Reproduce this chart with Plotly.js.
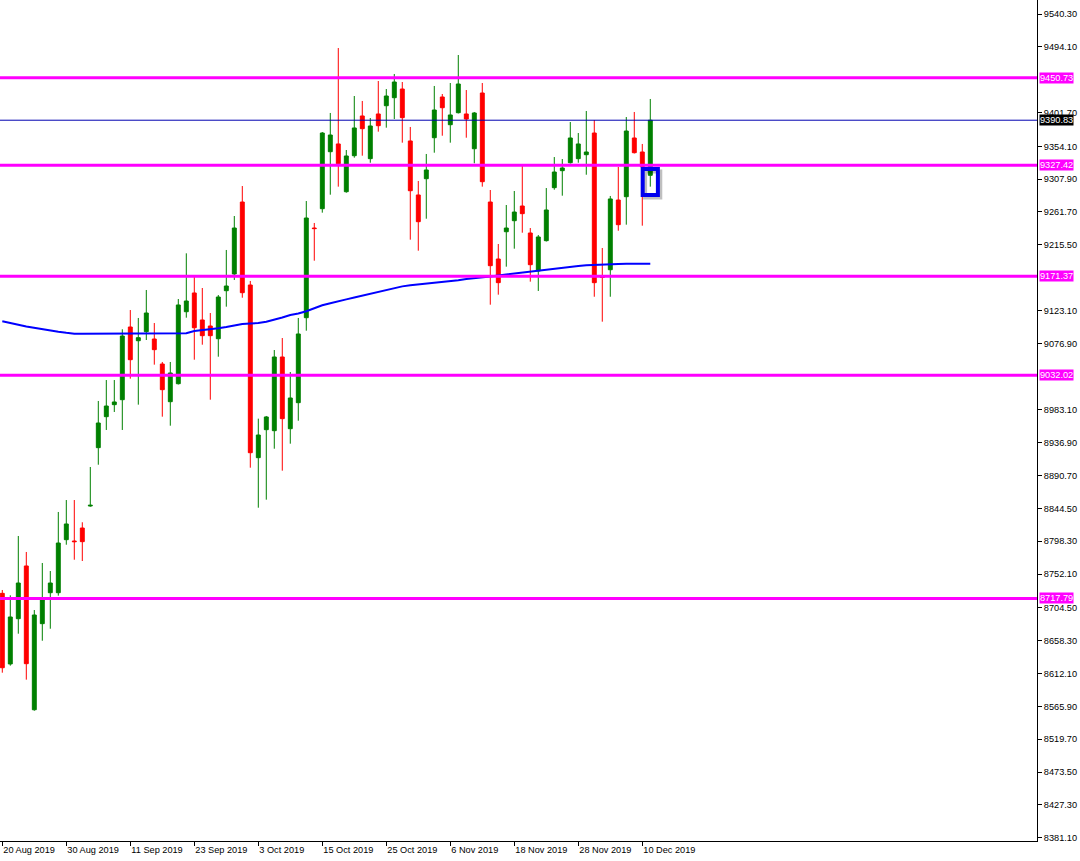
<!DOCTYPE html>
<html>
<head>
<meta charset="utf-8">
<script src="https://cdn.plot.ly/plotly-3.0.1.min.js"></script>
<style>html,body{margin:0;padding:0;background:#fff;}#chart{width:1080px;height:861px;}</style>
</head>
<body>
<div id="chart"></div>
<script>
// Date labels shown on the time axis (one every 8 bars)
const dateLabels = ["20 Aug 2019","30 Aug 2019","11 Sep 2019","23 Sep 2019","3 Oct 2019","15 Oct 2019","25 Oct 2019","6 Nov 2019","18 Nov 2019","28 Nov 2019","10 Dec 2019"];
const barsPerLabel = 8;

const openP = [8725.0,8625.6,8689.3,8763.5,8561.2,8682.3,8725.9,8725.9,8800.5,8798.6,
8816.9,8847.9,8930.0,8973.6,8990.5,8997.5,9099.8,9080.5,9093.2,9082.9,
9047.7,8994.7,9020.0,9121.3,9147.7,9109.7,9101.2,9083.3,9150.9,9174.4,
9275.7,9158.9,8915.9,8955.3,8953.9,9057.6,8956.7,8993.3,9112.9,9239.1,
9266.3,9346.5,9357.4,9290.2,9340.9,9396.8,9336.7,9399.6,9411.2,9422.5,
9434.7,9361.6,9285.6,9308.5,9366.2,9423.5,9384.5,9401.4,9399.6,9350.7,
9429.1,9275.7,9195.5,9233.9,9249.4,9270.1,9232.1,9178.6,9221.3,9295.9,
9319.8,9331.0,9336.7,9342.3,9372.8,9170.9,9180.4,9278.5,9283.2,9365.8,
9346.1,9313.3];
const highP = [8729.7,8722.2,8805.7,8783.2,8701.5,8767.7,8756.4,8839.5,8856.3,8856.3,
8825.0,8902.8,8995.7,9025.2,9025.2,9096.6,9123.7,9112.5,9151.9,9105.4,
9050.6,9050.6,9139.2,9203.5,9171.6,9154.7,9119.5,9144.8,9208.2,9256.0,
9298.2,9164.6,8970.8,8974.6,9067.4,9084.3,9036.5,9112.5,9277.1,9246.2,
9374.2,9401.0,9492.4,9348.9,9424.9,9417.9,9393.9,9446.0,9434.7,9455.9,
9444.6,9381.3,9305.3,9343.3,9439.0,9427.7,9443.2,9482.6,9433.3,9402.4,
9443.2,9292.6,9216.6,9271.5,9291.2,9326.8,9239.1,9229.3,9295.4,9339.0,
9336.2,9388.3,9372.8,9403.8,9391.1,9211.0,9284.2,9325.0,9395.3,9402.4,
9357.4,9420.7];
const lowP = [8613.3,8623.2,8668.2,8603.5,8559.8,8658.3,8675.2,8721.7,8793.4,8772.3,
8770.5,8846.9,8906.0,8954.9,8980.2,8954.9,9027.1,8990.5,9081.5,9046.8,
8973.6,8960.9,9018.9,9112.9,9053.8,9074.9,8997.5,9058.0,9128.4,9166.0,
9141.0,8901.8,8845.5,8856.8,8928.5,8897.6,8935.6,8967.9,9094.6,9193.1,
9260.7,9286.0,9297.3,9288.8,9338.1,9340.9,9331.0,9374.7,9380.3,9392.5,
9359.2,9222.7,9207.2,9252.2,9345.1,9369.0,9359.2,9400.3,9366.2,9330.2,
9297.3,9131.2,9145.3,9184.7,9210.0,9232.5,9163.6,9150.5,9220.1,9293.0,
9284.6,9329.9,9331.0,9314.1,9142.4,9107.3,9142.4,9235.3,9243.8,9344.0,
9242.4,9297.3];
const closeP = [8620.3,8691.7,8739.5,8626.0,8694.5,8715.6,8739.5,8795.8,8822.6,8797.7,
8797.7,8848.9,8964.7,8988.6,8994.3,9087.1,9053.8,9084.8,9119.5,9067.9,
9011.6,9035.1,9130.8,9136.4,9098.8,9087.6,9087.6,9142.0,9157.5,9239.1,
9148.1,8922.9,8947.8,8973.2,9057.6,8970.8,8999.9,9090.0,9253.2,9238.3,
9372.8,9370.0,9329.6,9340.5,9379.9,9378.9,9382.7,9383.1,9424.9,9444.6,
9394.4,9291.6,9248.0,9320.8,9405.2,9408.4,9398.2,9441.8,9392.5,9401.0,
9304.3,9186.1,9162.2,9239.1,9261.6,9259.3,9187.5,9226.5,9264.5,9317.9,
9323.6,9365.8,9357.4,9346.1,9162.2,9169.5,9280.0,9243.8,9375.6,9345.1,
9325.4,9390.8];
const movingAvg = [9107.8,9105.0,9103.1,9100.5,9098.4,9096.4,9094.6,9093.1,9091.6,9090.4,
9090.4,9090.4,9090.4,9090.4,9090.7,9090.4,9090.4,9090.2,9090.2,9090.1,
9090.1,9090.0,9090.0,9090.9,9094.2,9095.2,9096.6,9098.1,9099.8,9101.8,
9104.0,9104.7,9105.3,9107.1,9109.7,9113.2,9116.7,9118.8,9122.0,9126.5,
9130.5,9133.3,9136.3,9138.7,9141.2,9143.9,9146.8,9149.9,9152.6,9155.0,
9157.0,9158.5,9159.6,9160.8,9162.0,9163.4,9164.6,9165.7,9167.4,9168.9,
9169.6,9170.9,9172.3,9173.7,9175.0,9176.1,9177.2,9178.6,9179.9,9181.6,
9183.1,9184.4,9185.8,9186.6,9187.3,9187.8,9188.2,9188.5,9188.9,9188.9,
9188.9,9188.9];

// Horizontal support / resistance levels and the current price line
const levels = [9450.73, 9327.42, 9171.37, 9032.02, 8717.79];
const currentPrice = 9390.83;
// Highlighted zone around the last bar (price bounds)
const highlightZone = [9285.6, 9322.2];

// Price axis tick labels (those hidden behind level tags are omitted)
const priceTicks = [9540.30,9494.10,9401.70,9354.10,9307.90,9261.70,9215.50,9123.10,
9076.90,8983.10,8936.90,8890.70,8844.50,8798.30,8752.10,8704.50,8658.30,8612.10,8565.90,
8519.70,8473.50,8427.30,8381.10];

const idx = openP.map((_, i) => i);
const lastIdx = idx[idx.length - 1];
const FONT = 'Liberation Sans, Arial, sans-serif';
const FS = 9.2;

const traces = [
  {
    type: 'candlestick', x: idx, open: openP, high: highP, low: lowP, close: closeP,
    increasing: {line: {color: '#008000', width: 1}, fillcolor: '#008000'},
    decreasing: {line: {color: '#FF0000', width: 1}, fillcolor: '#FF0000'},
    whiskerwidth: 0, hoverinfo: 'skip', showlegend: false
  },
  {
    type: 'scatter', mode: 'lines', x: idx, y: movingAvg,
    line: {color: '#0000FF', width: 2}, hoverinfo: 'skip', showlegend: false
  }
];

const shapes = [];
const annotations = [];
levels.forEach(v => {
  shapes.push({type: 'line', xref: 'paper', x0: 0, x1: 1, yref: 'y', y0: v, y1: v,
    line: {color: '#FF00FF', width: 3}, layer: 'above'});
  annotations.push({xref: 'paper', x: 1, xanchor: 'left', xshift: 2, yref: 'y', y: v, yanchor: 'middle',
    text: v.toFixed(2), showarrow: false, bgcolor: '#FF00FF', borderpad: 0,
    font: {family: FONT, size: FS, color: '#FFFFFF'}});
});
shapes.push({type: 'line', xref: 'paper', x0: 0, x1: 1, yref: 'y', y0: currentPrice, y1: currentPrice,
  line: {color: '#0000B0', width: 1}, layer: 'above'});
annotations.push({xref: 'paper', x: 1, xanchor: 'left', xshift: 2, yref: 'y', y: currentPrice, yanchor: 'middle',
  text: currentPrice.toFixed(2), showarrow: false, bgcolor: '#000000', borderpad: 0,
  font: {family: FONT, size: FS, color: '#FFFFFF'}});

// shadow + highlight box on last bar
shapes.push({type: 'rect', xref: 'x', yref: 'y', x0: lastIdx - 0.95 + 0.3, x1: lastIdx + 0.95 + 0.3,
  y0: highlightZone[0] - 3.5, y1: highlightZone[1] - 3.5,
  line: {color: 'rgba(0,0,0,0.25)', width: 4}, layer: 'above'});
shapes.push({type: 'rect', xref: 'x', yref: 'y', x0: lastIdx - 0.95, x1: lastIdx + 0.95,
  y0: highlightZone[0], y1: highlightZone[1],
  line: {color: '#0000EE', width: 4}, layer: 'above'});

const tickIdx = dateLabels.map((_, k) => k * barsPerLabel);

const layout = {
  width: 1080, height: 861,
  margin: {l: 0, r: 43, t: 0, b: 20, pad: 0},
  paper_bgcolor: '#FFFFFF', plot_bgcolor: '#FFFFFF',
  showlegend: false,
  xaxis: {
    range: [-0.2875, 129.34], showgrid: false, zeroline: false,
    showline: true, linecolor: '#000000', linewidth: 1,
    ticks: 'outside', ticklen: 4, tickcolor: '#000000', tickwidth: 1,
    tickvals: tickIdx, ticktext: dateLabels,
    ticklabelposition: 'outside right',
    tickfont: {family: FONT, size: FS, color: '#000000'},
    rangeslider: {visible: false}, fixedrange: true
  },
  yaxis: {
    side: 'right', range: [8376.45, 9560.0], showgrid: false, zeroline: false,
    showline: true, linecolor: '#000000', linewidth: 1,
    ticks: 'outside', ticklen: 4, tickcolor: '#000000', tickwidth: 1,
    tickvals: priceTicks, tickformat: '.2f',
    tickfont: {family: FONT, size: FS, color: '#000000'},
    fixedrange: true
  },
  shapes: shapes,
  annotations: annotations
};

Plotly.newPlot('chart', traces, layout, {staticPlot: true, displayModeBar: false});
</script>
</body>
</html>
